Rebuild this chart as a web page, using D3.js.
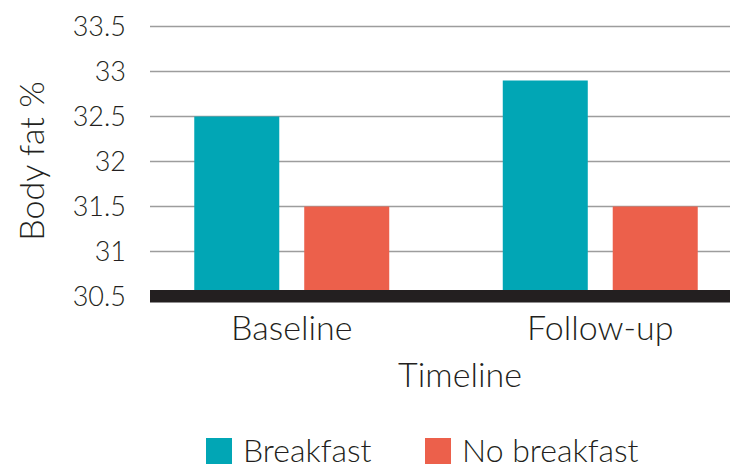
<!DOCTYPE html>
<html><head><meta charset="utf-8">
<script src="https://cdn.jsdelivr.net/npm/d3@7"></script>
<style>
html,body{margin:0;padding:0;background:#fff;}
text{font-family:Lato,"Open Sans",sans-serif;font-weight:300;fill:#231f20;}
</style></head>
<body><svg id="c" width="732" height="468"></svg>
<script>
const categories = ["Baseline", "Follow-up"];
const seriesNames = ["Breakfast", "No breakfast"];
const breakfast = [32.5, 32.9];
const noBreakfast = [31.5, 31.5];
const yTicks = [30.5, 31, 31.5, 32, 32.5, 33, 33.5];
const colors = ["#01a6b5", "#ec604b"];

const svg = d3.select("#c");
const plotL = 150, plotR = 730;
const y = d3.scaleLinear().domain([30.5, 33.5]).range([296.5, 26.5]);
const x0 = d3.scaleBand().domain(categories).range([137.5, 754.5]).paddingInner(0.368).paddingOuter(0.184);
const x1 = d3.scaleBand().domain(seriesNames).range([0, x0.bandwidth()]).paddingInner(0.227).paddingOuter(0);
const color = d3.scaleOrdinal().domain(seriesNames).range(colors);

// gridlines
svg.append("g").selectAll("line").data(yTicks.slice(1)).join("line")
  .attr("x1", plotL).attr("x2", plotR)
  .attr("y1", d => y(d)).attr("y2", d => y(d))
  .attr("stroke", "#9d9d9d").attr("stroke-width", 1.6);

// y axis labels
const yAxis = d3.axisLeft(y).tickValues(yTicks).tickSize(0).tickPadding(0).tickFormat(d3.format("~g"));
const ya = svg.append("g").attr("transform", "translate(126,0)").call(yAxis);
ya.select(".domain").remove();
ya.selectAll("text").style("font-size", "27px").attr("dy", "0.35em").attr("font-family", null).attr("fill", "#231f20");

// bars
const data = categories.map((c, i) => ({cat: c, vals: [
  {s: seriesNames[0], v: breakfast[i]}, {s: seriesNames[1], v: noBreakfast[i]}]}));
const g = svg.append("g").selectAll("g").data(data).join("g")
  .attr("transform", d => `translate(${x0(d.cat)},0)`);
g.selectAll("rect").data(d => d.vals).join("rect")
  .attr("x", d => x1(d.s)).attr("width", x1.bandwidth())
  .attr("y", d => y(d.v)).attr("height", d => y(30.5) - y(d.v))
  .attr("fill", d => color(d.s));

// thick baseline
svg.append("rect").attr("x", plotL).attr("width", plotR - plotL)
  .attr("y", y(30.5) - 6.5).attr("height", 12.5).attr("fill", "#231f20");

// x axis labels
const xAxis = d3.axisBottom(x0).tickSize(0).tickPadding(0);
const xa = svg.append("g").attr("transform", "translate(0,340)").call(xAxis);
xa.select(".domain").remove();
xa.selectAll("text").attr("dy", null).attr("y", 0).style("font-size", "34px").attr("font-family", null).attr("fill", "#231f20");

// axis titles
svg.append("text").attr("x", 460).attr("y", 387).attr("text-anchor", "middle")
  .style("font-size", "34px").text("Timeline");
svg.append("text").attr("transform", "translate(44,161) rotate(-90)").attr("text-anchor", "middle")
  .style("font-size", "34px").text("Body fat %");

// legend
const legX = [206, 425];
const lg = svg.append("g").selectAll("g").data(seriesNames).join("g")
  .attr("transform", (d, i) => `translate(${legX[i]},438)`);
lg.append("rect").attr("width", 26).attr("height", 26).attr("fill", d => color(d));
lg.append("text").attr("x", 37).attr("y", 24).style("font-size", "32px").text(d => d);
</script></body></html>
